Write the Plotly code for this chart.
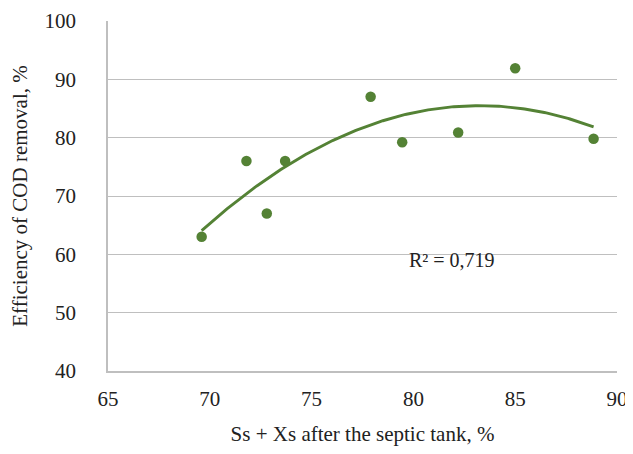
import numpy as np
import plotly.graph_objects as go

x_vals = [69.6, 71.8, 72.8, 73.7, 77.9, 79.45, 82.2, 85.0, 88.85]
y_vals = [63.0, 76.0, 67.0, 76.0, 87.0, 79.2, 80.9, 91.9, 79.8]
x_ticks = [65, 70, 75, 80, 85, 90]
y_ticks = [40, 50, 60, 70, 80, 90, 100]
r2_label = "R² = 0,719"
x_title = "Ss + Xs after the septic tank, %"
y_title = "Efficiency of COD removal, %"

green = "#548235"
font_family = "Liberation Serif"
txt = "#222222"

coef = np.polyfit(x_vals, y_vals, 2)
xs = np.linspace(min(x_vals), max(x_vals), 200)
ys = np.polyval(coef, xs)

fig = go.Figure()
fig.add_trace(go.Scatter(x=xs, y=ys, mode="lines",
                         line=dict(color=green, width=2.9), hoverinfo="skip"))
fig.add_trace(go.Scatter(x=x_vals, y=y_vals, mode="markers",
                         marker=dict(color=green, size=10.5)))

fig.add_annotation(x=81.9, y=59.0, text=r2_label, showarrow=False,
                   font=dict(family=font_family, size=20, color=txt))

# the page body adds an 8px offset, so the figure is made smaller
fig.update_layout(
    width=624, height=438,
    margin=dict(l=100, r=15, t=13, b=75, autoexpand=False),
    plot_bgcolor="white", paper_bgcolor="white",
    showlegend=False,
    font=dict(family=font_family, size=20, color=txt),
)
fig.update_xaxes(range=[65, 90], tickvals=x_ticks, showgrid=False,
                 showline=True, linecolor="#bfbfbf", linewidth=1.5,
                 ticks="", zeroline=False, ticklabelstandoff=8,
                 automargin=False,
                 tickfont=dict(family=font_family, size=21, color=txt),
                 title=dict(text=x_title, standoff=16,
                            font=dict(family=font_family, size=21, color=txt)))
fig.update_yaxes(range=[40, 100], tickvals=y_ticks, showgrid=True,
                 gridcolor="#bfbfbf", gridwidth=1.2,
                 showline=True, linecolor="#bfbfbf", linewidth=1.5,
                 ticks="", zeroline=False, ticklabelstandoff=26,
                 automargin=False,
                 tickfont=dict(family=font_family, size=21, color=txt),
                 title=dict(text=y_title, standoff=12,
                            font=dict(family=font_family, size=21, color=txt)))

fig.write_html("out.html")
